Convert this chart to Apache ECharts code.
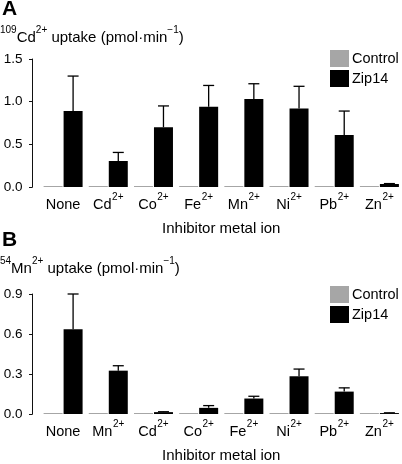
<!DOCTYPE html>
<html><head><meta charset="utf-8">
<script src="https://cdn.jsdelivr.net/npm/echarts@6/dist/echarts.min.js"></script>
<style>html,body{margin:0;padding:0;background:#fff}#c{width:402px;height:464px}</style>
</head><body><div id="c"></div>
<script>
// ---- data ----
const categoriesA = ['None', 'Cd2+', 'Co2+', 'Fe2+', 'Mn2+', 'Ni2+', 'Pb2+', 'Zn2+'];
const controlA = [0.01, 0.01, 0.01, 0.01, 0.01, 0.01, 0.01, 0.01];
const zip14A = [0.89, 0.305, 0.70, 0.94, 1.03, 0.92, 0.61, 0.035];
const errA = [0.41, 0.10, 0.25, 0.25, 0.18, 0.26, 0.28, 0.005];
const categoriesB = ['None', 'Mn2+', 'Cd2+', 'Co2+', 'Fe2+', 'Ni2+', 'Pb2+', 'Zn2+'];
const controlB = [0.005, 0.005, 0.005, 0.005, 0.005, 0.005, 0.005, 0.005];
const zip14B = [0.635, 0.325, 0.014, 0.046, 0.116, 0.283, 0.168, 0.007];
const errB = [0.265, 0.037, 0.003, 0.017, 0.017, 0.054, 0.028, 0.002];
const ticksA = { min: 0, max: 1.5, interval: 0.5 };
const ticksB = { min: 0, max: 0.9, interval: 0.3 };
const seriesNames = ['Control', 'Zip14'];
const xAxisTitle = 'Inhibitor metal ion';
const panelLabels = ['A', 'B'];

// ---- style ----
const FONT = 'Liberation Sans, Arial, Helvetica, sans-serif';
const BAR_W = 19, GAP = 1;
const OFFSET = (BAR_W + GAP) / 2;
const GREY = '#a6a6a6';

function ionLabel(v) {
  const m = /^([A-Za-z]+)(\d\+)$/.exec(v);
  return m ? '{n|' + m[1] + '}{s|' + m[2] + '}' : '{n|' + v + '}';
}
const catRich = {
  n: { fontSize: 14.5, fontFamily: FONT, color: '#000', lineHeight: 20, verticalAlign: 'bottom' },
  s: { fontSize: 10, fontFamily: FONT, color: '#000', lineHeight: 20, verticalAlign: 'top', padding: [0, 0, 0, 0.5] }
};

function errRender(params, api) {
  const i = api.value(0), m = api.value(1), e = api.value(2);
  const base = api.coord([i, m]);
  const top = api.coord([i, m + e]);
  const x = base[0] + OFFSET;
  const st = { stroke: '#000', lineWidth: 1.3 };
  return { type: 'group', children: [
    { type: 'line', shape: { x1: x, y1: base[1], x2: x, y2: top[1] }, style: st },
    { type: 'line', shape: { x1: x - 5.5, y1: top[1], x2: x + 5.5, y2: top[1] }, style: st }
  ] };
}

const grids = [
  { left: 40.5, top: 59, width: 365, height: 128 },
  { left: 40.5, top: 294, width: 365, height: 128 }
];
const cats = [categoriesA, categoriesB];
const ticks = [ticksA, ticksB];
const ctrl = [controlA, controlB];
const zip = [zip14A, zip14B];
const errs = [errA, errB];

const xAxis = [], yAxis = [], series = [], legend = [];
for (let p = 0; p < 2; p++) {
  xAxis.push({
    type: 'category', gridIndex: p, data: cats[p],
    axisLine: { show: false }, axisTick: { show: false },
    axisLabel: { margin: 5, interval: 0, formatter: ionLabel, rich: catRich },
    name: xAxisTitle, nameLocation: 'middle', nameGap: 34,
    nameTextStyle: { fontSize: 15, fontFamily: FONT, color: '#000' }
  });
  yAxis.push({
    type: 'value', gridIndex: p, min: ticks[p].min, max: ticks[p].max, interval: ticks[p].interval,
    offset: 8, splitLine: { show: false },
    axisLine: { show: true, lineStyle: { color: '#111', width: 1 } },
    axisTick: { show: true, length: 3.5, lineStyle: { color: '#111', width: 1 } },
    axisLabel: { margin: 10, fontSize: 13.5, fontFamily: FONT, color: '#000', formatter: v => v.toFixed(1) }
  });
  yAxis.push({
    type: 'value', gridIndex: p, min: ticks[p].min, max: ticks[p].max, interval: ticks[p].interval,
    offset: 8, splitLine: { show: false },
    axisLine: { show: false },
    axisTick: { show: true, inside: true, length: 3.5, lineStyle: { color: '#111', width: 1 } },
    axisLabel: { show: false }
  });
  series.push({
    name: seriesNames[0], type: 'bar', xAxisIndex: p, yAxisIndex: 2 * p, data: ctrl[p],
    barWidth: BAR_W, barGap: (GAP / BAR_W * 100) + '%', itemStyle: { color: GREY }, barMinHeight: 1
  });
  series.push({
    name: seriesNames[1], type: 'bar', xAxisIndex: p, yAxisIndex: 2 * p, data: zip[p],
    barWidth: BAR_W, barGap: (GAP / BAR_W * 100) + '%', itemStyle: { color: '#000' }
  });
  series.push({
    type: 'custom', xAxisIndex: p, yAxisIndex: 2 * p, renderItem: errRender, z: 3,
    data: zip[p].map((v, i) => [i, v, errs[p][i]])
  });
  legend.push({
    orient: 'vertical', left: 330, top: p === 0 ? 50 : 286, padding: 0,
    itemWidth: 19, itemHeight: 17, itemGap: 3,
    icon: 'rect', data: seriesNames,
    textStyle: { fontSize: 14.5, fontFamily: FONT, color: '#000', padding: [0, 0, 0, -2] }
  });
}

const titleRich = {
  n: { fontSize: 15, fontFamily: FONT, fill: '#000', lineHeight: 20, verticalAlign: 'bottom' },
  s: { fontSize: 10, fontFamily: FONT, fill: '#000', lineHeight: 20, verticalAlign: 'top' }
};
const yTitles = [
  '{s|109}{n|Cd}{s|2+}{n| uptake (pmol·min}{s|−1}{n|)}',
  '{s|54}{n|Mn}{s|2+}{n| uptake (pmol·min}{s|−1}{n|)}'
];
const graphic = [];
[0, 231].forEach((dy, p) => {
  graphic.push({ type: 'text', left: 2, top: -1 + dy,
    style: { text: panelLabels[p], font: 'bold 21px ' + FONT, fill: '#000' } });
  graphic.push({ type: 'text', left: 0, top: 25 + dy,
    style: { text: yTitles[p], rich: titleRich } });
});

const chart = echarts.init(document.getElementById('c'), null, { renderer: 'canvas' });
chart.setOption({
  animation: false, backgroundColor: '#fff',
  grid: grids, xAxis, yAxis, series, legend, graphic
});
</script></body></html>
